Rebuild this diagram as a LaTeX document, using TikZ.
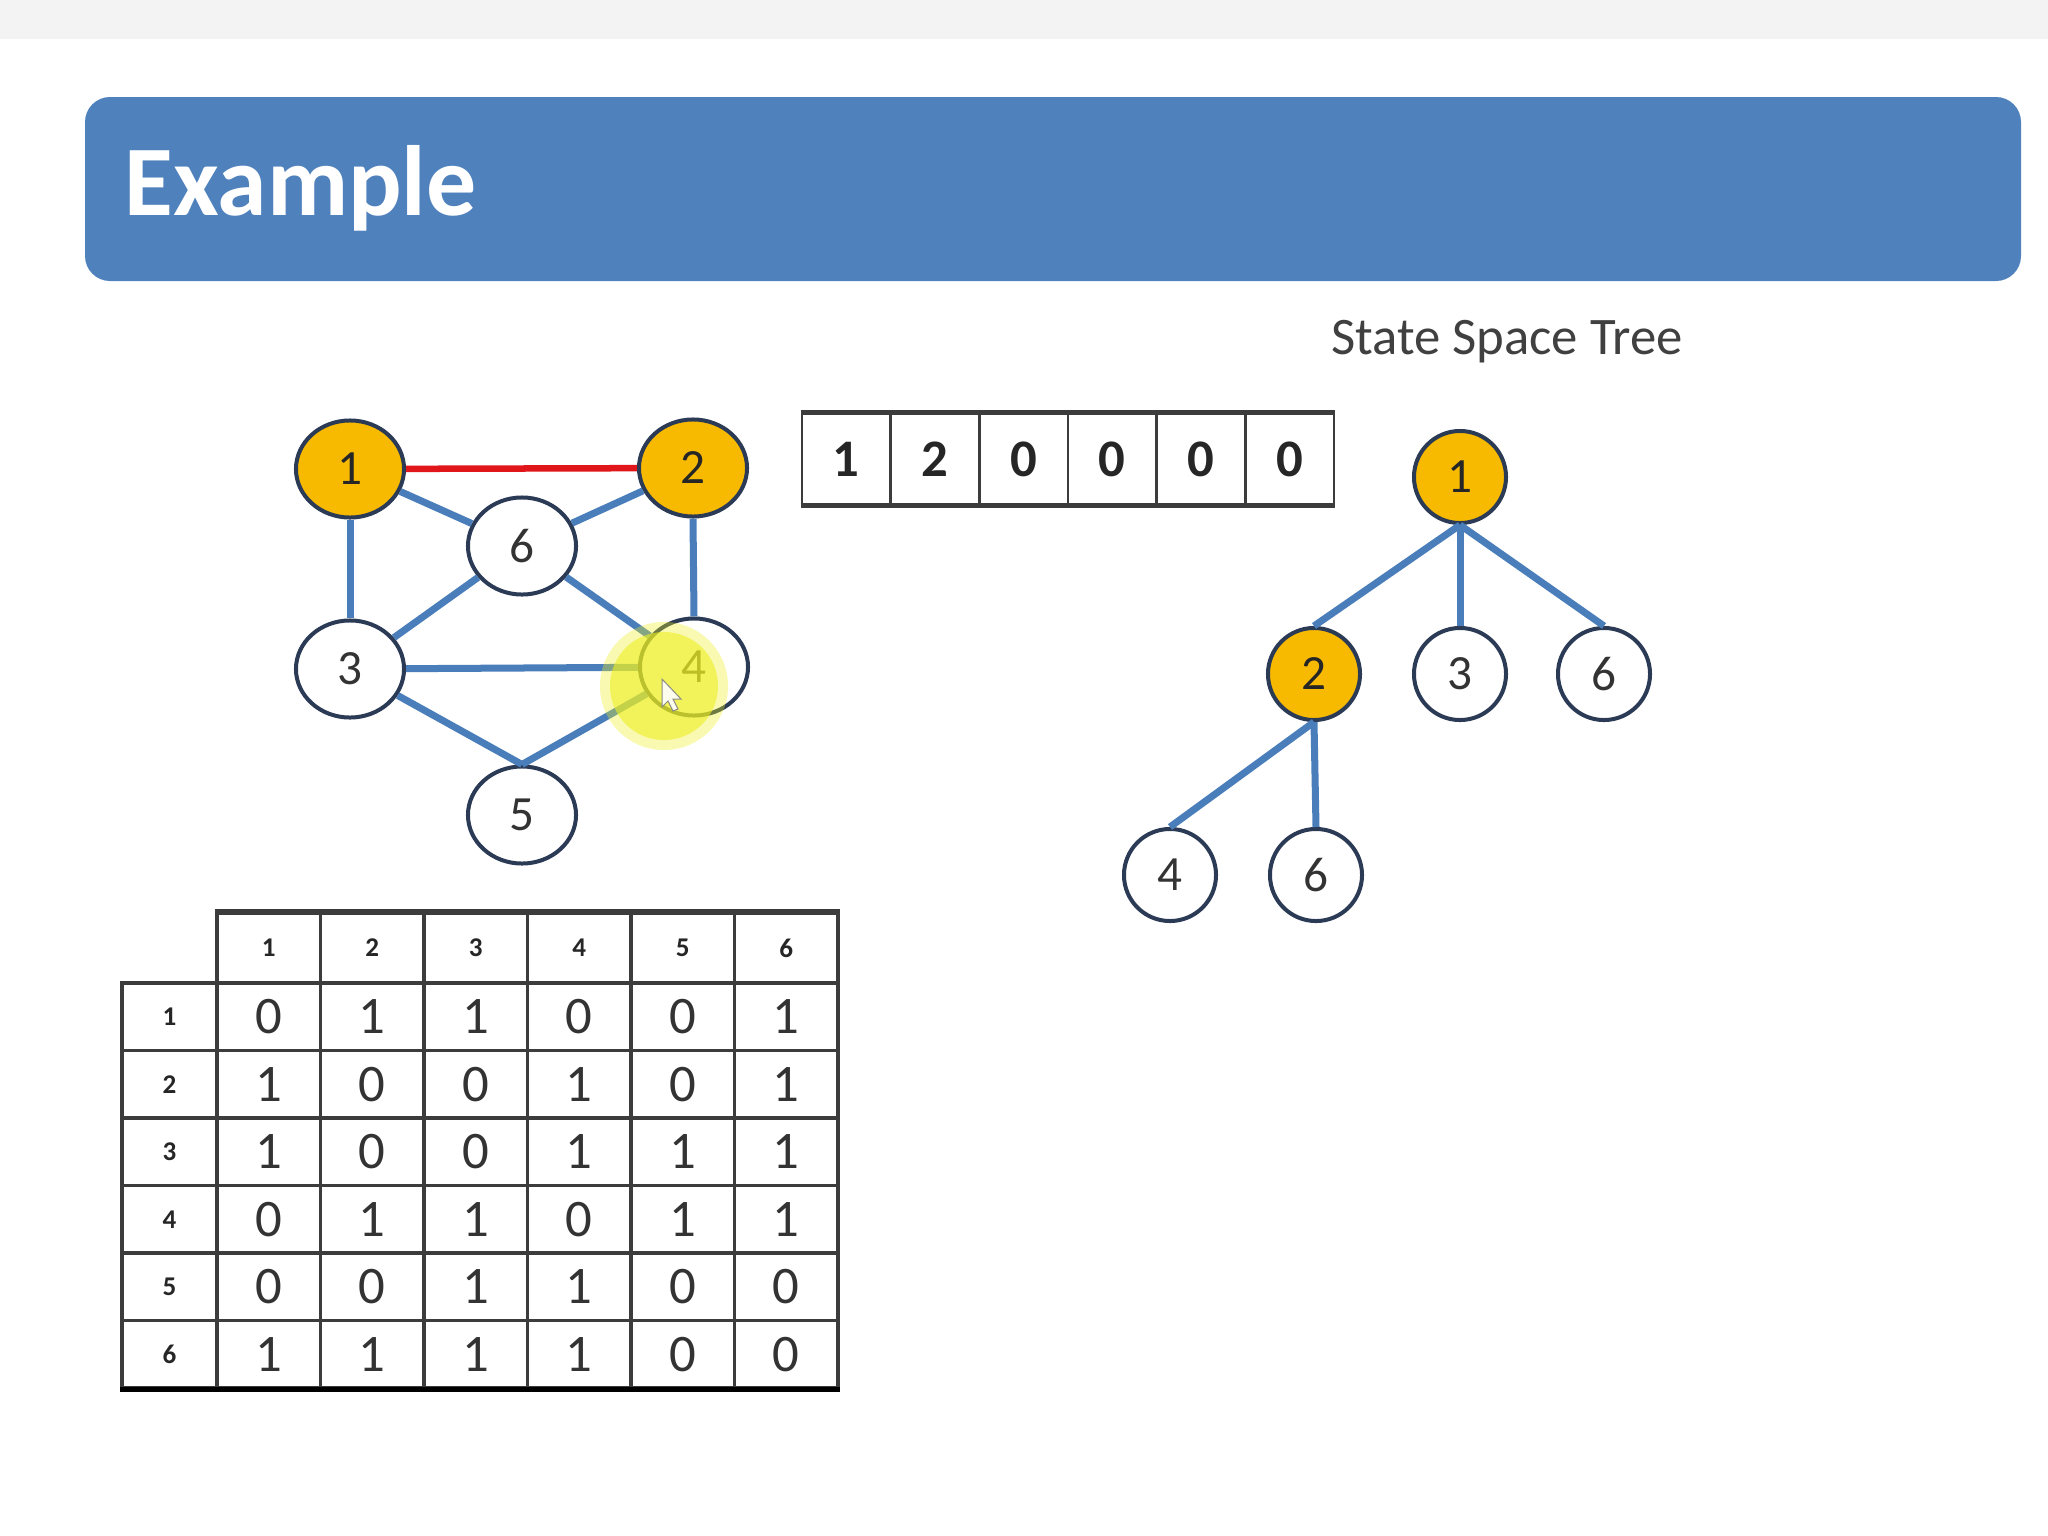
\documentclass[tikz,border=0pt]{standalone}
\usepackage{fontspec}
\setmainfont{Carlito}
\usetikzlibrary{shapes.geometric}
\definecolor{banner}{HTML}{4F81BD}
\definecolor{edgeblue}{HTML}{4A7EBB}
\definecolor{nodeline}{HTML}{2B3A55}
\definecolor{gold}{HTML}{F7BA00}
\definecolor{txt}{HTML}{333333}
\definecolor{redge}{HTML}{E0161B}
\definecolor{gridc}{HTML}{3C3C3C}
\definecolor{topstrip}{HTML}{F3F3F3}
\definecolor{hilite}{HTML}{EEF020}
\tikzset{
  gnode/.style={ellipse, draw=nodeline, line width=0.04cm, fill=white,
    minimum width=1.08cm, minimum height=0.97cm, inner sep=0pt,
    font=\fontsize{14pt}{16pt}\selectfont, text=txt},
  tnode/.style={gnode, minimum width=0.92cm, minimum height=0.92cm},
  sel/.style={fill=gold, text=black!85},
  gedge/.style={draw=edgeblue, line width=0.07cm},
  redgeline/.style={draw=redge, line width=0.065cm},
  acell/.style={rectangle, draw=gridc, line width=0.025cm, minimum width=0.8867cm,
    minimum height=0.9cm, inner sep=0pt, font=\bfseries\fontsize{15pt}{17pt}\selectfont, text=black!85},
  mcell/.style={rectangle, draw=gridc, line width=0.035cm, minimum width=1.035cm,
    minimum height=0.675cm, inner sep=0pt, font=\fontsize{15pt}{17pt}\selectfont, text=txt},
  hdr/.style={font=\bfseries\fontsize{7.7pt}{9pt}\selectfont, text=black!85},
}
\begin{document}
\begin{tikzpicture}[x=0.01cm, y=-0.01cm]
\useasboundingbox (0,0) rectangle (2048,1536);
\fill[white] (0,0) rectangle (2048,1536);
\fill[topstrip] (0,0) rectangle (2048,39);
% banner
\fill[banner, rounded corners=0.25cm] (85,97) rectangle (2021,281);
\node[anchor=base west, text=white, font=\bfseries\fontsize{28.4pt}{30pt}\selectfont, inner sep=0pt] (title) at (124,215) {Example};
\node[anchor=base, text=black!75, font=\fontsize{15pt}{17pt}\selectfont, inner sep=0pt] (sst) at (1507,354) {State Space Tree};

% graph
\node[gnode, sel] (g1) at (350,469) {1};
\node[gnode, sel] (g2) at (693,468) {2};
\node[gnode] (g6) at (522,546) {6};
\node[gnode] (g3) at (350,669) {3};
\node[gnode] (g4) at (694,667) {4};
\node[gnode] (g5) at (522,815) {5};
\draw[redgeline] (g1) -- (g2);
\draw[gedge] (g1.south) -- (g3.north);
\draw[gedge] (g2.south) -- (g4.north);
\draw[gedge] (g1) -- (g6);
\draw[gedge] (g2) -- (g6);
\draw[gedge] (g3) -- (g6);
\draw[gedge] (g6) -- (g4);
\draw[gedge] (g3) -- (g4);
\draw[gedge] (g3) -- (g5.north);
\draw[gedge] (g4) -- (g5.north);

% cursor highlight
\fill[hilite, opacity=0.35] (664,686) circle[radius=0.64cm];
\fill[hilite, opacity=0.6] (664,686) circle[radius=0.54cm];
\coordinate (cur) at (662,679);
\filldraw[fill=white, draw=gray, line width=0.01cm, opacity=0.9]
  (cur) -- ++(0,28) -- ++(6,-6) -- ++(5,10) -- ++(5,-2) -- ++(-5,-10) -- ++(8,0) -- cycle;

% array
\foreach \v [count=\i] in {1,2,0,0,0,0}
  \node[acell] (a\i) at ({802+88.67*(\i-0.5)},459) {\v};
\draw[gridc, line width=0.045cm] (a1.north west) -- (a6.north east);
\draw[gridc, line width=0.045cm] (a1.south west) -- (a6.south east);

% tree
\node[tnode, sel] (t1) at (1460,477) {1};
\node[tnode, sel] (t2) at (1314,674) {2};
\node[tnode] (t3) at (1460,674) {3};
\node[tnode] (t6) at (1604,674) {6};
\node[tnode] (t24) at (1170,875) {4};
\node[tnode] (t26) at (1316,875) {6};
\draw[gedge] (t1.south) -- (t2.north);
\draw[gedge] (t1.south) -- (t3.north);
\draw[gedge] (t1.south) -- (t6.north);
\draw[gedge] (t2.south) -- (t24.north);
\draw[gedge] (t2.south) -- (t26.north);

% adjacency matrix
\foreach \c in {1,...,6}
  \node[mcell, hdr, minimum height=0.70cm] (h\c) at ({217+103.5*(\c-0.5)},948) {\c};
\foreach \r/\vals in {1/{0,1,1,0,0,1},2/{1,0,0,1,0,1},3/{1,0,0,1,1,1},4/{0,1,1,0,1,1},5/{0,0,1,1,0,0},6/{1,1,1,1,0,0}}{
  \node[mcell, hdr, minimum width=0.95cm] (r\r) at (169.5,{983+67.5*(\r-0.5)}) {\r};
  \foreach \v [count=\c] in \vals
    \node[mcell] (m\r-\c) at ({217+103.5*(\c-0.5)},{983+67.5*(\r-0.5)}) {\v};
}
\draw[black, line width=0.05cm] (r6.south west) -- (m6-6.south east);
\draw[gridc, line width=0.05cm] (h1.north west) -- (h6.north east);
\end{tikzpicture}
\end{document}
